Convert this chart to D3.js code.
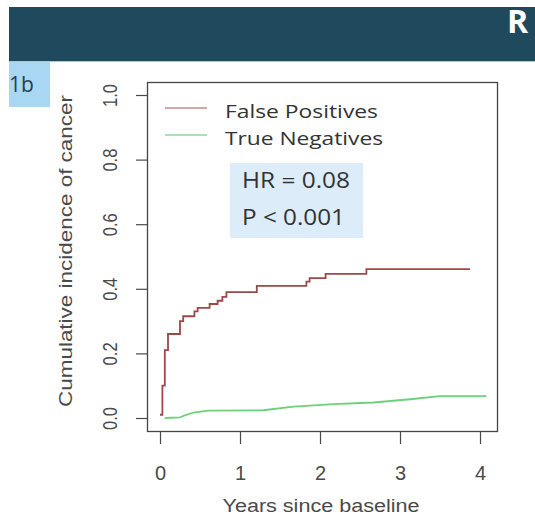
<!DOCTYPE html>
<html>
<head>
<meta charset="utf-8">
<title>Cumulative incidence of cancer</title>
<script src="https://d3js.org/d3.v7.min.js"></script>
<style>
  body { margin: 0; background: #fff; }
  svg { display: block; }
</style>
</head>
<body>
<svg width="535" height="515"></svg>
<script>
// data: [years, cumulative incidence]
var falsePos = [[0, 0.01], [0.03, 0.10], [0.06, 0.21], [0.10, 0.26], [0.24, 0.26], [0.25, 0.30],
  [0.29, 0.315], [0.41, 0.315], [0.43, 0.33], [0.47, 0.341], [0.60, 0.341], [0.62, 0.353],
  [0.70, 0.353], [0.72, 0.363], [0.78, 0.375], [0.83, 0.39], [1.21, 0.39], [1.21, 0.409],
  [1.81, 0.409], [1.83, 0.422], [1.87, 0.433], [2.06, 0.433], [2.07, 0.446], [2.56, 0.446],
  [2.58, 0.461], [3.875, 0.461]];
var trueNeg = [[0.06, 0.0], [0.25, 0.002], [0.33, 0.01], [0.42, 0.017], [0.6, 0.023], [1.29, 0.024],
  [1.67, 0.035], [2.17, 0.043], [2.67, 0.048], [3.13, 0.058], [3.5, 0.068], [4.08, 0.068]];
var xTicks = [0, 1, 2, 3, 4];
var yTicks = [0, 0.2, 0.4, 0.6, 0.8, 1.0];
var legendLabels = ["False Positives", "True Negatives"];
var statLines = ["HR = 0.08", "P < 0.001"];

var svg = d3.select("svg");

// slide header
svg.append("rect").attr("x", 9).attr("y", 7).attr("width", 526).attr("height", 54).attr("fill", "#1f4a5e");
svg.append("rect").attr("x", 9).attr("y", 61).attr("width", 526).attr("height", 1).attr("fill", "#a8c8d8");
svg.append("text").attr("x", 507).attr("y", 33).attr("fill", "#fff")
  .attr("font-family", "Open Sans, sans-serif").attr("font-weight", "bold").attr("font-size", 32).text("R");
svg.append("rect").attr("x", 9).attr("y", 62).attr("width", 41).attr("height", 45).attr("fill", "#a9d6f2");
svg.append("text").attr("x", 9).attr("y", 92).attr("fill", "#2a3f4f")
  .attr("font-family", "Open Sans, sans-serif").attr("font-size", 21).text("1b");

var x = d3.scaleLinear().domain([0, 4]).range([160, 480]);
var y = d3.scaleLinear().domain([0, 1]).range([418, 95]);

var axisFont = "Liberation Sans, Arial, sans-serif";
var axisCol = "#4a4a4a";

// plot box
svg.append("rect").attr("x", 147.5).attr("y", 82.5).attr("width", 350).attr("height", 349)
  .attr("fill", "none").attr("stroke", "#444").attr("stroke-width", 1.3);

var gx = svg.append("g").attr("transform", "translate(0,432)")
  .call(d3.axisBottom(x).tickValues(xTicks).tickSize(12).tickPadding(0).tickFormat(d3.format("d")));
gx.select(".domain").remove();
gx.selectAll("line").attr("stroke", axisCol).attr("stroke-width", 1.2);
gx.selectAll("text").attr("font-family", axisFont).attr("font-size", 20).attr("fill", axisCol)
  .attr("y", 48).attr("dy", null);

var gy = svg.append("g").attr("transform", "translate(147,0)")
  .call(d3.axisLeft(y).tickValues(yTicks).tickSize(11).tickFormat(d3.format(".1f")));
gy.select(".domain").remove();
gy.selectAll("line").attr("stroke", axisCol).attr("stroke-width", 1.2);
gy.selectAll("text").attr("font-family", axisFont).attr("font-size", 20).attr("fill", axisCol)
  .attr("text-anchor", "middle").attr("x", 0).attr("y", 0).attr("dy", null)
  .attr("textLength", 23).attr("lengthAdjust", "spacingAndGlyphs")
  .attr("transform", "translate(-30,0) rotate(-90)");

svg.append("text").attr("x", 321).attr("y", 512).attr("text-anchor", "middle")
  .attr("font-family", axisFont).attr("font-size", 18).attr("fill", axisCol)
  .attr("textLength", 197).attr("lengthAdjust", "spacingAndGlyphs").text("Years since baseline");
svg.append("text").attr("transform", "translate(72,251) rotate(-90)").attr("text-anchor", "middle")
  .attr("font-family", axisFont).attr("font-size", 19).attr("fill", axisCol)
  .attr("textLength", 312).attr("lengthAdjust", "spacingAndGlyphs").text("Cumulative incidence of cancer");

// curves
var line = d3.line().x(function(d) { return x(d[0]); }).y(function(d) { return y(d[1]); }).curve(d3.curveStepAfter);
var smooth = d3.line().x(function(d) { return x(d[0]); }).y(function(d) { return y(d[1]); });
svg.append("path").datum(falsePos).attr("d", line).attr("fill", "none")
  .attr("stroke", "#9b4848").attr("stroke-width", 1.8);
svg.append("path").datum(trueNeg).attr("d", smooth).attr("fill", "none")
  .attr("stroke", "#6fd07a").attr("stroke-width", 1.8);

// legend
var legColors = ["#c98a8a", "#8fd898"];
var legWidths = [153, 158];
legendLabels.forEach(function(lab, i) {
  var ly = 108 + i * 27;
  svg.append("line").attr("x1", 165).attr("x2", 207).attr("y1", ly).attr("y2", ly)
    .attr("stroke", legColors[i]).attr("stroke-width", 1.5);
  svg.append("text").attr("x", 225).attr("y", ly + 10).attr("font-family", "Open Sans, sans-serif")
    .attr("font-size", 18).attr("fill", "#333")
    .attr("textLength", legWidths[i]).attr("lengthAdjust", "spacingAndGlyphs").text(lab);
});

// HR box
var statWidths = [108, 103];
svg.append("rect").attr("x", 230).attr("y", 163).attr("width", 133).attr("height", 75).attr("fill", "#dcecf8");
statLines.forEach(function(t, i) {
  svg.append("text").attr("x", 242).attr("y", 188 + i * 37).attr("font-family", "Open Sans, sans-serif")
    .attr("font-size", 21).attr("fill", "#333")
    .attr("textLength", statWidths[i]).attr("lengthAdjust", "spacingAndGlyphs").text(t);
});
</script>
</body>
</html>
